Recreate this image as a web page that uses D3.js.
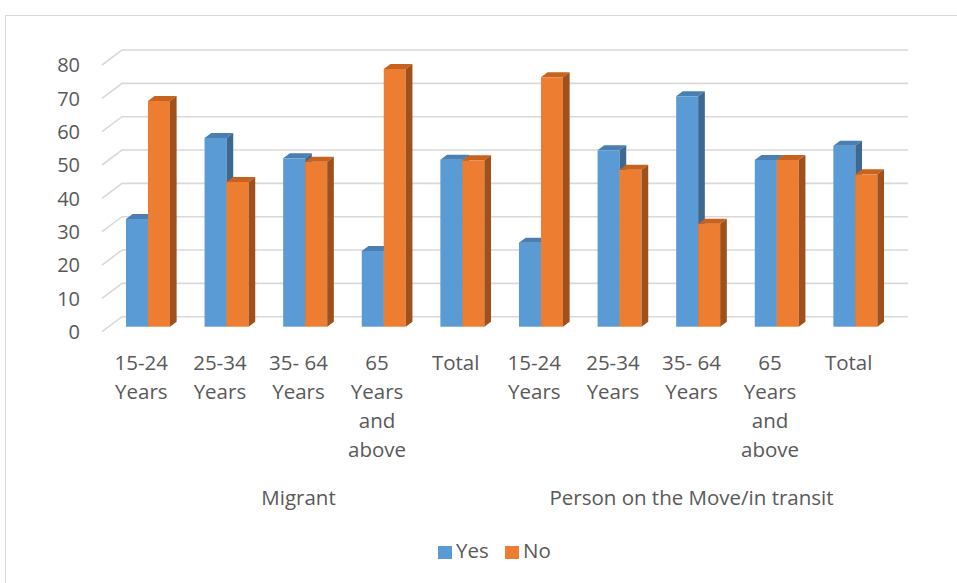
<!DOCTYPE html>
<html lang="en">
<head>
  <meta charset="UTF-8">
  <title>Migrant / Person on the Move</title>
  <style>
    body {
      margin: 0;
      background: #ffffff;
      font-family: "Open Sans", Arial, sans-serif;
    }
    svg text {
      fill: #595959;
    }
  </style>
</head>
<body>
  <div id="chart"></div>

  <script src="https://d3js.org/d3.v7.min.js"></script>
  <script>
    // data (percent)
    const categories = [
      "15-24 Years", "25-34 Years", "35- 64 Years", "65 Years and above", "Total",
      "15-24 Years", "25-34 Years", "35- 64 Years", "65 Years and above", "Total"
    ];
    const groups = ["Migrant", "Person on the Move/in transit"];
    const yesValues = [32.3, 56.6, 50.5, 22.7, 50.1, 25.2, 52.9, 69.1, 50, 54.3];
    const noValues  = [67.7, 43.4, 49.5, 77.3, 49.9, 74.8, 47.1, 30.9, 50, 45.7];
    const series = ["Yes", "No"];
    const yTicks = [0, 10, 20, 30, 40, 50, 60, 70, 80];

    const W = 957, H = 583;
    const colors = {
      Yes: { front: "#5b9bd5", top: "#4a7fb3", side: "#3d6890" },
      No:  { front: "#ed7d31", top: "#c8621f", side: "#9f511d" }
    };

    // 3D depth of the floor (front -> back wall)
    const depthX = 20, depthY = -15;

    const svg = d3.select("#chart").append("svg")
      .attr("width", W).attr("height", H);

    // chart border
    svg.append("rect")
      .attr("x", 5.5).attr("y", 15.5)
      .attr("width", W + 10).attr("height", H + 10)
      .attr("fill", "none").attr("stroke", "#d9d9d9").attr("stroke-width", 1);

    const x = d3.scaleBand()
      .domain(d3.range(categories.length))
      .range([102, 888]);

    const y = d3.scaleLinear()
      .domain([0, 80])
      .range([331.7, 65]);

    // gridlines: diagonal on the floor side, then along the back wall
    const grid = svg.append("g");
    yTicks.forEach(t => {
      const yf = y(t);
      grid.append("path")
        .attr("d", `M${x.range()[0]},${yf} L${x.range()[0] + depthX},${yf + depthY} L${x.range()[1] + depthX},${yf + depthY}`)
        .attr("fill", "none")
        .attr("stroke", "#d9d9d9")
        .attr("stroke-width", 1.6);
    });

    // y axis labels
    svg.append("g").selectAll("text")
      .data(yTicks)
      .enter().append("text")
      .attr("x", 80)
      .attr("y", d => y(d))
      .attr("dy", "0.36em")
      .attr("text-anchor", "end")
      .style("font-size", "20px")
      .text(d => d);

    // bars sit in the middle third of the depth
    const bx = depthX / 3, by = depthY / 3;
    const barW = 22;
    const xs = d3.scaleBand().domain(series).range([0, barW * 2]);
    const bars = svg.append("g");

    categories.forEach((c, i) => {
      const left = x(i) + (x.bandwidth() - barW * 2) / 2 + bx;
      [yesValues[i], noValues[i]].forEach((v, k) => {
        const s = series[k];
        const x0 = left + xs(s), x1 = x0 + barW;
        const y0 = y(0) + by, y1 = y(v) + by;
        const g = bars.append("g");
        g.append("rect")
          .attr("x", x0).attr("y", y1)
          .attr("width", barW).attr("height", y0 - y1)
          .attr("fill", colors[s].front);
        g.append("path")
          .attr("d", `M${x0},${y1} L${x0 + bx},${y1 + by} L${x1 + bx},${y1 + by} L${x1},${y1} Z`)
          .attr("fill", colors[s].top);
        g.append("path")
          .attr("d", `M${x1},${y1} L${x1 + bx},${y1 + by} L${x1 + bx},${y0 + by} L${x1},${y0} Z`)
          .attr("fill", colors[s].side);
      });
    });

    // category labels (wrapped like the original)
    const labelLines = categories.map(c => {
      if (c.indexOf("and above") > -1) return ["65", "Years", "and", "above"];
      if (c.indexOf(" Years") > -1) return [c.split(" Years")[0], "Years"];
      return [c];
    });
    const catLabels = svg.append("g");
    labelLines.forEach((lines, i) => {
      const t = catLabels.append("text")
        .attr("text-anchor", "middle")
        .style("font-size", "20.5px");
      lines.forEach((ln, j) => {
        t.append("tspan")
          .attr("x", x(i) + x.bandwidth() / 2)
          .attr("y", 370 + j * 29)
          .text(ln);
      });
    });

    // group labels
    groups.forEach((g, gi) => {
      const first = x(gi * 5), last = x(gi * 5 + 4) + x.bandwidth();
      svg.append("text")
        .attr("x", (first + last) / 2)
        .attr("y", 505)
        .attr("text-anchor", "middle")
        .style("font-size", "20.5px")
        .text(g);
    });

    // legend
    const legend = svg.append("g");
    const legendPos = [{ s: "Yes", x: 438 }, { s: "No", x: 505 }];
    legendPos.forEach(d => {
      legend.append("rect")
        .attr("x", d.x).attr("y", 546)
        .attr("width", 14).attr("height", 13)
        .attr("fill", colors[d.s].front);
      legend.append("text")
        .attr("x", d.x + 18).attr("y", 558)
        .style("font-size", "20.5px")
        .text(d.s);
    });
  </script>
</body>
</html>
